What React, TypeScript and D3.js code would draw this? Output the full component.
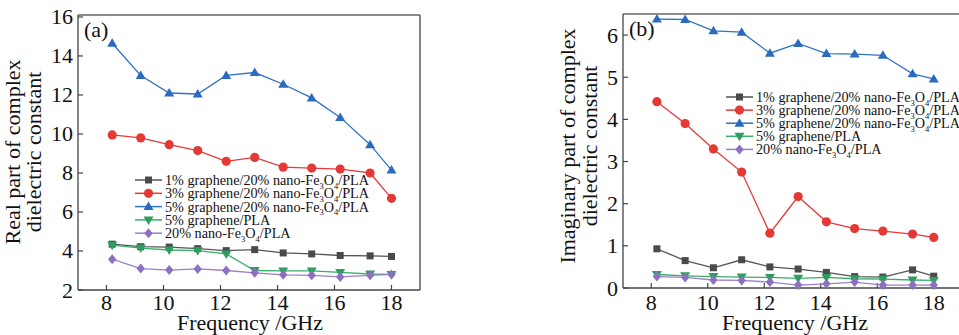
import React from "react";
import * as d3 from "d3";

const freq = [8.2, 9.2, 10.2, 11.2, 12.2, 13.2, 14.2, 15.2, 16.2, 17.25, 18];

const realS1 = [4.35, 4.22, 4.2, 4.12, 4.02, 4.07, 3.9, 3.85, 3.77, 3.75, 3.72];
const realS3 = [9.95, 9.8, 9.45, 9.15, 8.6, 8.8, 8.3, 8.25, 8.2, 8.0, 6.7];
const realS5 = [14.65, 13.0, 12.1, 12.05, 13.0, 13.15, 12.55, 11.85, 10.85, 9.45, 8.15];
const realG5 = [4.3, 4.15, 4.05, 4.02, 3.85, 3.0, 2.98, 2.98, 2.9, 2.82, 2.8];
const realF20 = [3.58, 3.1, 3.02, 3.08, 3.0, 2.88, 2.78, 2.75, 2.67, 2.75, 2.8];

const imagS1 = [0.93, 0.65, 0.48, 0.67, 0.5, 0.45, 0.37, 0.27, 0.26, 0.43, 0.28];
const imagS3 = [4.42, 3.9, 3.3, 2.75, 1.3, 2.17, 1.57, 1.41, 1.35, 1.28, 1.2];
const imagS5 = [6.38, 6.37, 6.1, 6.07, 5.57, 5.8, 5.56, 5.55, 5.52, 5.08, 4.96];
const imagG5 = [0.32, 0.29, 0.27, 0.26, 0.25, 0.23, 0.25, 0.22, 0.21, 0.19, 0.18];
const imagF20 = [0.27, 0.25, 0.19, 0.18, 0.14, 0.07, 0.1, 0.14, 0.07, 0.07, 0.07];

const xTicks = [8, 10, 12, 14, 16, 18];
const realTicks = [2, 4, 6, 8, 10, 12, 14, 16];
const imagTicks = [0, 1, 2, 3, 4, 5, 6];

type Legend = { pre: string; mid?: boolean };
const legendNames: Legend[] = [
  { pre: "1% graphene/20% nano-Fe", mid: true },
  { pre: "3% graphene/20% nano-Fe", mid: true },
  { pre: "5% graphene/20% nano-Fe", mid: true },
  { pre: "5% graphene/PLA" },
  { pre: "20% nano-Fe", mid: true },
];

const styles = [
  { line: "#555555", fill: "#4a4a4a", shape: "square" },
  { line: "#e8393a", fill: "#e53935", shape: "circle" },
  { line: "#2f73c4", fill: "#2a6bbf", shape: "triangle" },
  { line: "#3aae6c", fill: "#2e9e5e", shape: "triangleDown" },
  { line: "#9a80c8", fill: "#8e70c0", shape: "diamond" },
];

const FONT = "'Liberation Serif', 'Times New Roman', serif";

function Marker({ shape, x, y, fill }: { shape: string; x: number; y: number; fill: string }) {
  if (shape === "square") return <rect x={x - 3.5} y={y - 3.5} width={7} height={7} fill={fill} />;
  if (shape === "circle") return <circle cx={x} cy={y} r={4.6} fill={fill} />;
  if (shape === "triangle") return <path d={`M${x},${y - 5} L${x + 5},${y + 3.5} L${x - 5},${y + 3.5}Z`} fill={fill} />;
  if (shape === "triangleDown") return <path d={`M${x},${y + 5} L${x + 5},${y - 3.5} L${x - 5},${y - 3.5}Z`} fill={fill} />;
  return <path d={`M${x},${y - 5} L${x + 4.2},${y} L${x},${y + 5} L${x - 4.2},${y}Z`} fill={fill} />;
}

function LegendText({ item, x, y }: { item: Legend; x: number; y: number }) {
  return (
    <text x={x} y={y + 5} fontSize={14.2} fontFamily={FONT} fill="#111">
      {item.pre}
      {item.mid ? (
        <>
          <tspan fontSize={8.5} dy={3.5}>3</tspan>
          <tspan dy={-3.5}>O</tspan>
          <tspan fontSize={8.5} dy={3.5}>4</tspan>
          <tspan dy={-3.5}>/PLA</tspan>
        </>
      ) : null}
    </text>
  );
}

type PanelProps = {
  x0: number; x1: number; y0: number; y1: number;
  yDomain: [number, number]; yTicks: number[];
  series: number[][]; label: string;
  title: string[]; titleX: number[]; titleY: number;
  legX: number; legY: number; legStep: number;
  xTitleX: number;
};

function Panel(p: PanelProps) {
  const x = d3.scaleLinear().domain([7, 19]).range([p.x0, p.x1]);
  const y = d3.scaleLinear().domain(p.yDomain).range([p.y1, p.y0]);
  const line = d3.line<number>().x((_, i) => x(freq[i])).y((d) => y(d));
  const right = x(19);
  return (
    <g>
      <line x1={p.x0} x2={right} y1={p.y0} y2={p.y0} stroke="#666" strokeWidth={1.3} />
      <line x1={right} x2={right} y1={p.y0} y2={p.y1} stroke="#444" strokeWidth={1.3} />
      <line x1={p.x0} x2={p.x0} y1={p.y0} y2={p.y1} stroke="#444" strokeWidth={1.3} />
      <line x1={p.x0} x2={right} y1={p.y1} y2={p.y1} stroke="#444" strokeWidth={1.3} />
      {xTicks.map((t) => (
        <g key={t}>
          <line x1={x(t)} x2={x(t)} y1={p.y1} y2={p.y1 - 5} stroke="#444" strokeWidth={1.2} />
          <text x={x(t)} y={310} fontSize={22} fontFamily={FONT} textAnchor="middle" fill="#111">{t}</text>
        </g>
      ))}
      {p.yTicks.map((t) => (
        <g key={t}>
          <line x1={p.x0} x2={p.x0 + 5} y1={y(t)} y2={y(t)} stroke="#444" strokeWidth={1.2} />
          <text x={p.x0 - 5} y={y(t) + 7.5} fontSize={22} fontFamily={FONT} textAnchor="end" fill="#111">{t}</text>
        </g>
      ))}
      <text x={p.xTitleX} y={330} fontSize={22} fontFamily={FONT} textAnchor="middle" fill="#111">Frequency /GHz</text>
      {p.title.map((t, i) => (
        <text key={i} transform={`translate(${p.titleX[i]},${p.titleY}) rotate(-90)`} fontSize={22} fontFamily={FONT} textAnchor="middle" dominantBaseline="middle" fill="#111">{t}</text>
      ))}
      <text x={p.x0 + 6} y={p.y0 + 22} fontSize={22} fontFamily={FONT} fill="#111">{p.label}</text>
      {p.series.map((s, si) => (
        <g key={si}>
          <path d={line(s) || ""} fill="none" stroke={styles[si].line} strokeWidth={1.3} />
          {s.map((v, i) => (
            <Marker key={i} shape={styles[si].shape} x={x(freq[i])} y={y(v)} fill={styles[si].fill} />
          ))}
        </g>
      ))}
      {legendNames.map((item, i) => {
        const ly = p.legY + i * p.legStep;
        return (
          <g key={i}>
            <line x1={p.legX} x2={p.legX + 27} y1={ly} y2={ly} stroke={styles[i].line} strokeWidth={1.5} />
            <Marker shape={styles[i].shape} x={p.legX + 13.5} y={ly} fill={styles[i].fill} />
            <LegendText item={item} x={p.legX + 30} y={ly} />
          </g>
        );
      })}
    </g>
  );
}

export default function App() {
  return (
    <svg width={959} height={335} style={{ position: "absolute", left: 0, top: 0, background: "#fff" }}>
      <rect width={959} height={335} fill="#fff" />
      <Panel
        x0={78} x1={420} y0={15} y1={290}
        yDomain={[2, 16.1]} yTicks={realTicks}
        series={[realS1, realS3, realS5, realG5, realF20]}
        label="(a)"
        title={["Real part of complex", "dielectric constant"]}
        titleX={[15, 36]} titleY={152}
        legX={135} legY={180} legStep={13.3}
        xTitleX={250}
      />
      <Panel
        x0={623} x1={962} y0={14} y1={288}
        yDomain={[0, 6.5]} yTicks={imagTicks}
        series={[imagS1, imagS3, imagS5, imagG5, imagF20]}
        label="(b)"
        title={["Imaginary part of complex", "dielectric constant"]}
        titleX={[570, 592]} titleY={146}
        legX={726} legY={97} legStep={13.1}
        xTitleX={795}
      />
    </svg>
  );
}
